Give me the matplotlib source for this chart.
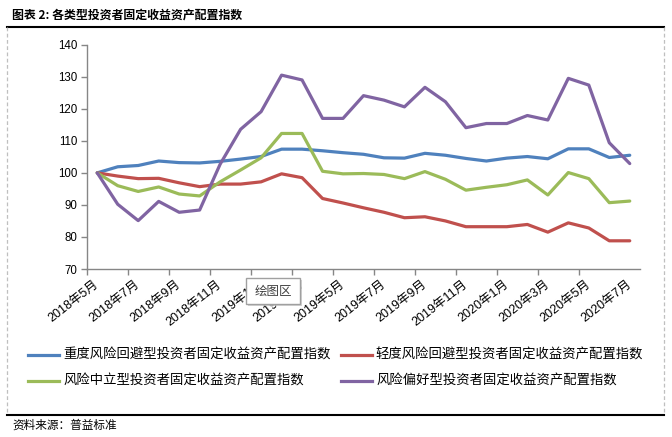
import matplotlib
matplotlib.use("Agg")
import matplotlib.pyplot as plt
from matplotlib.lines import Line2D
from matplotlib.patches import Rectangle

plt.rcParams['font.family'] = ['Liberation Sans', 'Noto Sans CJK SC', 'DejaVu Sans']

months = ["2018年5月", "2018年6月", "2018年7月", "2018年8月", "2018年9月", "2018年10月",
          "2018年11月", "2018年12月", "2019年1月", "2019年2月", "2019年3月", "2019年4月",
          "2019年5月", "2019年6月", "2019年7月", "2019年8月", "2019年9月", "2019年10月",
          "2019年11月", "2019年12月", "2020年1月", "2020年2月", "2020年3月", "2020年4月",
          "2020年5月", "2020年6月", "2020年7月"]

heavy_avoid = [100, 101.9, 102.3, 103.7, 103.2, 103.1, 103.6, 104.3, 105.1, 107.4, 107.4, 106.9,
               106.3, 105.8, 104.7, 104.6, 106.1, 105.5, 104.5, 103.7, 104.6, 105.1, 104.4,
               107.5, 107.5, 104.8, 105.5]
light_avoid = [100, 99.0, 98.2, 98.3, 96.9, 95.7, 96.5, 96.5, 97.2, 99.7, 98.5, 92.0,
               90.6, 89.1, 87.7, 86.0, 86.3, 85.0, 83.2, 83.2, 83.2, 83.9, 81.5,
               84.4, 82.8, 78.8, 78.8]
neutral = [100, 96.0, 94.2, 95.6, 93.4, 92.8, 97.2, 100.9, 104.7, 112.3, 112.3, 100.5,
           99.7, 99.8, 99.5, 98.2, 100.4, 98.0, 94.6, 95.5, 96.3, 97.8, 93.1,
           100.1, 98.2, 90.7, 91.2]
risk_pref = [100, 90.2, 85.1, 91.1, 87.7, 88.4, 102.7, 113.6, 119.1, 130.5, 129.0, 117.0,
             117.0, 124.1, 122.7, 120.6, 126.7, 122.2, 114.1, 115.4, 115.4, 117.9, 116.5,
             129.5, 127.4, 109.4, 102.9]

series_names = ["重度风险回避型投资者固定收益资产配置指数", "轻度风险回避型投资者固定收益资产配置指数",
                "风险中立型投资者固定收益资产配置指数", "风险偏好型投资者固定收益资产配置指数"]
colors = ["#4F81BD", "#C0504D", "#9BBB59", "#8064A2"]

W, H = 672, 437
fig = plt.figure(figsize=(W / 100, H / 100), dpi=100)
fig.patch.set_facecolor("white")

def fx(px):
    return px / W

def fy(py):
    return 1 - py / H

ax = fig.add_axes([fx(87), fy(269), fx(640) - fx(87), fy(44.7) - fy(269)])
x = list(range(len(months)))
data = [heavy_avoid, light_avoid, neutral, risk_pref]
for vals, c in zip(data, colors):
    ax.plot(x, vals, color=c, lw=2.3, solid_joinstyle='round', solid_capstyle='round')

ax.set_xlim(-0.5, len(months) - 0.5)
ax.set_ylim(70, 140)
ax.set_yticks(range(70, 141, 10))
ax.tick_params(axis='y', direction='out', length=4, width=1, color='#868686',
               labelsize=8.3, pad=3, labelcolor='black')
# major ticks between categories, labels on minor ticks at category centres
ax.set_xticks([i - 0.5 for i in range(0, len(months) - 1, 2)])
ax.set_xticklabels([])
ax.tick_params(axis='x', which='major', direction='out', length=4, width=1, color='#868686')
ax.set_xticks(list(range(0, len(months), 2)), minor=True)
ax.set_xticklabels([months[i] for i in range(0, len(months), 2)], minor=True,
                   rotation=38, ha='right', va='center', rotation_mode='anchor', fontsize=9)
ax.tick_params(axis='x', which='minor', length=0, pad=10)
for s in ['top', 'right']:
    ax.spines[s].set_visible(False)
for s in ['left', 'bottom']:
    ax.spines[s].set_color('#868686')
    ax.spines[s].set_linewidth(1)

cjk = ['Noto Sans CJK SC', 'DejaVu Sans']

# title and rules
fig.text(fx(12), fy(15), "图表 2: 各类型投资者固定收益资产配置指数", fontsize=8.6,
         family=cjk, fontweight='bold', va='center', ha='left')
fig.add_artist(Line2D([fx(7), fx(664)], [fy(26.5), fy(26.5)], color='black', lw=1.5))
fig.add_artist(Line2D([fx(7), fx(664)], [fy(415), fy(415)], color='black', lw=1.5))
fig.add_artist(Line2D([fx(7), fx(7)], [fy(27), fy(414)], color='#BFBFBF', lw=0.9, ls=(0, (3, 2))))
fig.add_artist(Line2D([fx(664), fx(664)], [fy(27), fy(414)], color='#BFBFBF', lw=0.9, ls=(0, (3, 2))))
fig.text(fx(12), fy(425), "资料来源：普益标准", fontsize=8.4, family=cjk, va='center', ha='left')

# legend
leg_pos = [(28, 355), (341, 355), (28, 381), (341, 381)]
for (lx, ly), name, c in zip(leg_pos, series_names, colors):
    fig.add_artist(Line2D([fx(lx), fx(lx + 31)], [fy(ly), fy(ly)], color=c, lw=2.3))
    fig.text(fx(lx + 35), fy(ly), name, fontsize=9.6, family=cjk, va='center', ha='left')

# tooltip overlay
fig.add_artist(Rectangle((fx(248), fy(306)), fx(54), 26 / H, transform=fig.transFigure,
                         facecolor='#C8C8C8', edgecolor='none', alpha=0.8, zorder=9))
fig.add_artist(Rectangle((fx(246), fy(304)), fx(54), 26 / H, transform=fig.transFigure,
                         facecolor='white', edgecolor='#A0A0A0', lw=1, zorder=10))
fig.text(fx(273), fy(291), "绘图区", fontsize=9, family=cjk, color='#404040',
         va='center', ha='center', zorder=11)

fig.savefig("out.png", dpi=100, facecolor='white')
